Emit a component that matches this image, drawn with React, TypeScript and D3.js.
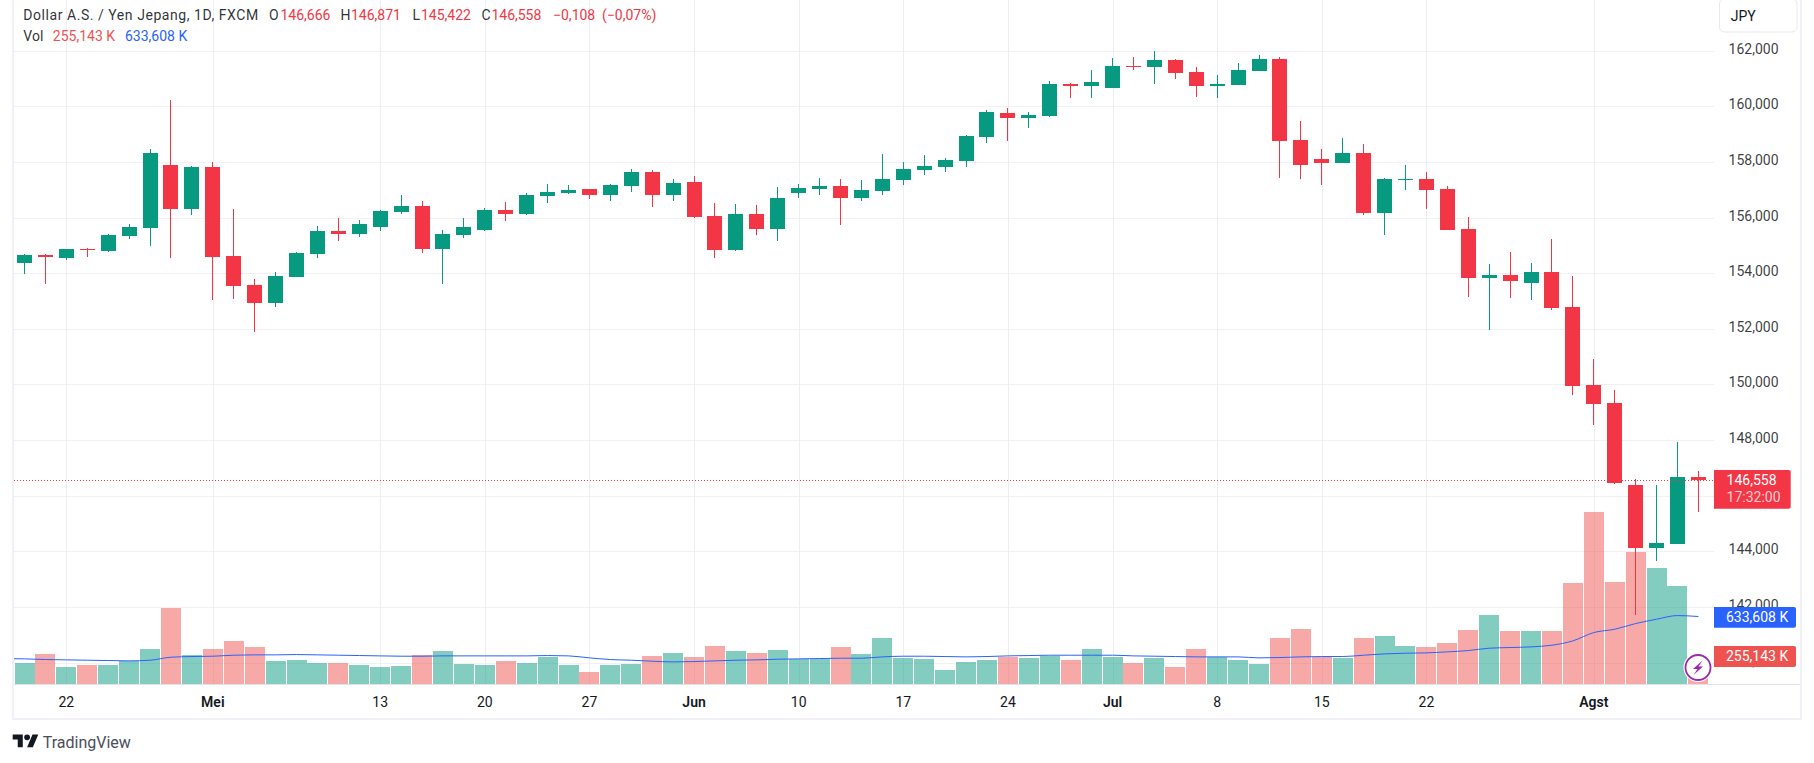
import React from "react";
import * as d3 from "d3";

const opens = [154.37,154.65,154.54,154.87,154.80,155.34,155.62,157.89,156.31,157.82,154.62,153.57,152.93,153.86,154.69,155.52,155.41,155.66,156.20,156.41,154.87,155.37,155.55,156.27,156.13,156.77,156.88,157.03,156.81,157.13,157.64,156.81,157.28,156.05,154.83,156.13,155.59,156.88,157.03,157.13,156.70,156.95,157.35,157.71,157.82,158.03,158.90,159.76,159.58,159.65,160.80,160.73,160.66,161.45,161.41,161.66,161.23,160.73,160.77,161.27,161.70,158.79,158.10,157.96,158.32,156.16,157.35,157.39,157.03,155.59,153.83,153.93,153.65,154.04,152.78,149.98,149.33,146.38,144.12,144.26,146.666];
const highs = [154.69,154.69,154.87,154.90,155.41,155.77,158.46,160.23,157.85,158.00,156.31,153.79,154.04,154.76,155.70,155.98,155.91,156.27,156.81,156.59,155.55,155.98,156.34,156.56,156.88,157.21,157.17,157.03,157.21,157.75,157.71,157.39,157.49,156.52,156.49,156.45,157.10,157.21,157.42,157.39,157.35,158.28,158.00,158.25,158.14,158.97,159.87,159.94,159.79,160.91,160.84,161.30,161.74,161.77,161.99,161.70,161.41,161.13,161.56,161.84,161.77,159.47,158.46,158.86,158.64,157.42,157.89,157.64,157.13,156.02,154.33,154.76,154.37,155.23,153.90,150.91,149.80,146.60,146.38,147.93,146.871];
const lows = [153.97,153.61,154.47,154.58,154.76,155.23,154.98,154.54,156.09,153.03,153.07,151.88,152.78,153.86,154.54,155.16,155.30,155.52,156.13,154.72,153.61,155.26,155.52,155.88,156.09,156.52,156.85,156.67,156.59,156.92,156.38,156.59,155.98,154.54,154.80,155.37,155.16,156.70,156.81,155.73,156.59,156.81,157.17,157.53,157.64,157.82,158.68,158.75,159.22,159.61,160.30,160.30,160.66,161.30,160.80,160.98,160.33,160.30,160.77,161.27,157.42,157.39,157.17,157.96,156.09,155.37,156.99,156.31,155.55,153.14,151.96,153.11,153.03,152.68,149.62,148.54,146.42,141.71,143.65,144.26,145.422];
const closes = [154.65,154.58,154.87,154.83,155.37,155.66,158.32,156.31,157.82,154.58,153.54,152.93,153.90,154.72,155.52,155.41,155.77,156.24,156.41,154.87,155.41,155.66,156.27,156.13,156.81,156.92,156.99,156.81,157.17,157.64,156.81,157.24,156.02,154.83,156.13,155.59,156.70,157.06,157.13,156.70,156.99,157.39,157.75,157.85,158.07,158.93,159.79,159.58,159.69,160.80,160.73,160.87,161.45,161.41,161.66,161.20,160.73,160.80,161.30,161.70,158.75,157.89,157.96,158.32,156.16,157.39,157.39,156.99,155.55,153.83,153.93,153.72,154.04,152.75,149.94,149.30,146.45,144.12,144.30,146.67,146.558];
const volumes = [196.6,280.8,159.1,177.8,177.8,215.3,327.6,711.4,271.4,327.6,402.5,346.3,215.3,224.6,196.6,196.6,177.8,159.1,168.5,271.4,308.9,187.2,177.8,215.3,196.6,252.7,177.8,112.3,177.8,187.2,262.1,290.2,252.7,355.7,308.9,290.2,318.2,234,234,346.3,280.8,430.6,243.4,234,131,205.9,224.6,252.7,243.4,262.1,224.6,327.6,252.7,196.6,243.4,159.1,327.6,252.7,224.6,187.2,430.6,514.8,252.7,243.4,430.6,449.3,355.7,346.3,383.8,505.4,645.8,496.1,496.1,496.1,945.4,1609.9,954.7,1235.5,1085.8,917.3,255.143];
const volumeMA = [237.1,230.9,227.8,224.6,221.5,218.4,224.6,252.7,259,262.1,271.4,274.6,274.6,277.7,274.6,271.4,268.3,265.2,262.1,262.1,265.2,265.2,265.2,265.2,265.2,268.3,265.2,246.5,230.9,224.6,215.3,209,212.2,218.4,224.6,227.8,234,237.1,240.2,243.4,243.4,255.8,262.1,262.1,259,255.8,259,265.2,268.3,271.4,271.4,271.4,271.4,265.2,262.1,259,255.8,255.8,255.8,246.5,249.6,255.8,259,259,271.4,283.9,290.2,293.3,302.6,315.1,337,343.2,349.4,365,405.6,483.6,514.8,567.8,608.4,642.7,633.608];
// the moving average of the bar just before the visible range (its line enters from the pane's left edge)
const volumeMABefore = 240;

const priceTicks = [162,160,158,156,154,152,150,148,146,144,142,140];
// 146,000 lies fully behind the last-price badge in the reference
const priceLabels = [162,160,158,156,154,152,150,148,144,142,140];
const timeTicks: [number, string, boolean][] = [
  [2,"22",false],[9,"Mei",true],[17,"13",false],[22,"20",false],[27,"27",false],[32,"Jun",true],[37,"10",false],
  [42,"17",false],[47,"24",false],[52,"Jul",true],[57,"8",false],[62,"15",false],[67,"22",false],[75,"Agst",true],
];
const lastPrice = 146.558;

const UP = "#089981";
const DOWN = "#F23645";
const FONT = "Roboto, 'Noto Sans', sans-serif";
const TEXT = "#131722";
const W = 1814, H = 763;
const LEFT = 14, AXIS_X = 1714, RIGHT = 1800, BASE = 684.5;

const x = d3.scaleLinear().domain([0, 80]).range([24.5, 1698.4]);
const y = d3.scaleLinear().domain([162, 140]).range([50.7, 662.5]);
const v = d3.scaleLinear().domain([0, 1000]).range([684.2, 577.4]);
const fmtThousands = d3.format(",");

export default function App() {
  const idx = d3.range(closes.length);
  const maPoints: [number, number][] = [[x(-1), v(volumeMABefore)], ...idx.map(i => [x(i), v(volumeMA[i])] as [number, number])];
  const maLine = d3.line().curve(d3.curveMonotoneX)(maPoints) || "";
  return (
    <svg width={W} height={H} viewBox={`0 0 ${W} ${H}`} style={{ position: "absolute", left: 0, top: 0, display: "block", background: "#fff" }} fontFamily={FONT}>
      <defs>
        <clipPath id="pane"><rect x={LEFT} y={0} width={AXIS_X - LEFT} height={BASE} /></clipPath>
      </defs>
      {/* grid */}
      {priceTicks.map(p => <line key={p} x1={LEFT} x2={AXIS_X} y1={Math.round(y(p)) + 0.5} y2={Math.round(y(p)) + 0.5} stroke="#f1f1f3" />)}
      {timeTicks.map(([i]) => <line key={i} x1={Math.round(x(i)) + 0.5} x2={Math.round(x(i)) + 0.5} y1={0} y2={BASE} stroke="#eeeef2" />)}

      {/* frame */}
      <rect x={12} y={0} width={2} height={720} fill="#f0f0f6" />
      <rect x={12} y={718} width={1790} height={2} fill="#f0f0f6" />
      <rect x={1800} y={0} width={2} height={720} fill="#f0f0f6" />
      <line x1={LEFT} x2={RIGHT} y1={684.5} y2={684.5} stroke="#e0e3eb" />

      {/* volume */}
      {idx.map(i => (
        <rect key={i} x={x(i) - 10} width={20} y={v(volumes[i])} height={684.2 - v(volumes[i])}
          fill={closes[i] >= opens[i] ? UP : "#ef5350"} fillOpacity={0.5} shapeRendering="crispEdges" />
      ))}
      <path d={maLine} fill="none" stroke="#2962ff" strokeWidth={1} clipPath="url(#pane)" />

      {/* candles */}
      {idx.map(i => {
        const c = closes[i] >= opens[i] ? UP : DOWN;
        const top = y(Math.max(opens[i], closes[i]));
        const bot = y(Math.min(opens[i], closes[i]));
        return (
          <g key={i} shapeRendering="crispEdges">
            <rect x={Math.floor(x(i))} width={1} y={y(highs[i])} height={y(lows[i]) - y(highs[i])} fill={c} />
            <rect x={Math.floor(x(i)) - 7} width={15} y={top} height={Math.max(bot - top, 1.5)} fill={c} />
          </g>
        );
      })}

      {/* last price line */}
      <line x1={LEFT} x2={AXIS_X} y1={Math.round(y(lastPrice)) + 0.5} y2={Math.round(y(lastPrice)) + 0.5} stroke={DOWN} strokeDasharray="1 2" />

      {/* price axis labels */}
      {priceLabels.map(p => (
        <text key={p} x={1778.5} y={y(p) - 2} textAnchor="end" dominantBaseline="central" fontSize={14} fill={TEXT} fillOpacity={0.85}>
          {fmtThousands(p * 1000)}
        </text>
      ))}

      {/* time axis labels */}
      {timeTicks.map(([i, t, bold]) => (
        <text key={i} x={x(i)} y={701.5} textAnchor="middle" dominantBaseline="central" fontSize={14} fontWeight={bold ? 600 : 400} fill={TEXT}>{t}</text>
      ))}

      {/* last bar mask + badge */}
      <rect x={1692} y={655} width={18} height={23} fill="#fff" />
      <circle cx={1698} cy={667.5} r={14.5} fill="#fff" />
      <circle cx={1698} cy={667.5} r={12.5} fill="#fff" stroke="#9c27b0" strokeWidth={1.8} />
      <path d="M1702.5 660.5 L1693 669 L1697.5 669 L1693.5 675 L1703 666.5 L1698.5 666.5 Z" fill="#9c27b0" />

      {/* axis badges */}
      <path d="M1714 470 H1788.7 a2 2 0 0 1 2 2 V506.7 a2 2 0 0 1 -2 2 H1714 Z" fill={DOWN} />
      <text x={1726.6} y={480} dominantBaseline="central" fontSize={14} fill="#fff">146,558</text>
      <text x={1726.6} y={497.3} dominantBaseline="central" fontSize={14} fill="#fff" fillOpacity={0.75}>17:32:00</text>
      <path d="M1714 607 H1794 a2 2 0 0 1 2 2 V625.7 a2 2 0 0 1 -2 2 H1714 Z" fill="#2962ff" />
      <text x={1726} y={617} dominantBaseline="central" fontSize={14} fill="#fff">633,608 K</text>
      <path d="M1714 646 H1794 a2 2 0 0 1 2 2 V665 a2 2 0 0 1 -2 2 H1714 Z" fill="#ef5350" />
      <text x={1726} y={656.2} dominantBaseline="central" fontSize={14} fill="#fff">255,143 K</text>

      {/* currency */}
      <rect x={1719.5} y={-1} width={77.5} height={33} rx={5} fill="#fff" stroke="#e6e8ef" />
      <text x={1730.7} y={16} dominantBaseline="central" fontSize={14} fill={TEXT}>JPY</text>

      {/* legend */}
      <g fontSize={14} dominantBaseline="central">
        <text x={23.3} y={15} fill={TEXT} fillOpacity={0.9} letterSpacing={0.55}>Dollar A.S. / Yen Jepang, 1D, FXCM</text>
        <text x={269} y={15} fill={TEXT} fillOpacity={0.9}>O</text>
        <text x={280.5} y={15} fill={DOWN}>146,666</text>
        <text x={340.6} y={15} fill={TEXT} fillOpacity={0.9}>H</text>
        <text x={351} y={15} fill={DOWN}>146,871</text>
        <text x={412.5} y={15} fill={TEXT} fillOpacity={0.9}>L</text>
        <text x={421} y={15} fill={DOWN}>145,422</text>
        <text x={481.4} y={15} fill={TEXT} fillOpacity={0.9}>C</text>
        <text x={491.4} y={15} fill={DOWN}>146,558</text>
        <text x={553} y={15} fill={DOWN}>−0,108</text>
        <text x={602} y={15} fill={DOWN}>(−0,07%)</text>
        <text x={23.3} y={36} fill={TEXT} fillOpacity={0.9}>Vol</text>
        <text x={52.8} y={36} fill="#ef5350">255,143 K</text>
        <text x={125} y={36} fill="#2962ff">633,608 K</text>
      </g>

      {/* logo */}
      <g transform="translate(12.7 731.5) scale(0.72)" fill="#131722">
        <path d="M14 22H7V11H0V4h14v18zM28 22h-8l7.5-18h8L28 22z" />
        <circle cx={20} cy={8} r={4} />
      </g>
      <text x={42.7} y={742} dominantBaseline="central" fontSize={16} fill="#4a4e5a">TradingView</text>
    </svg>
  );
}
